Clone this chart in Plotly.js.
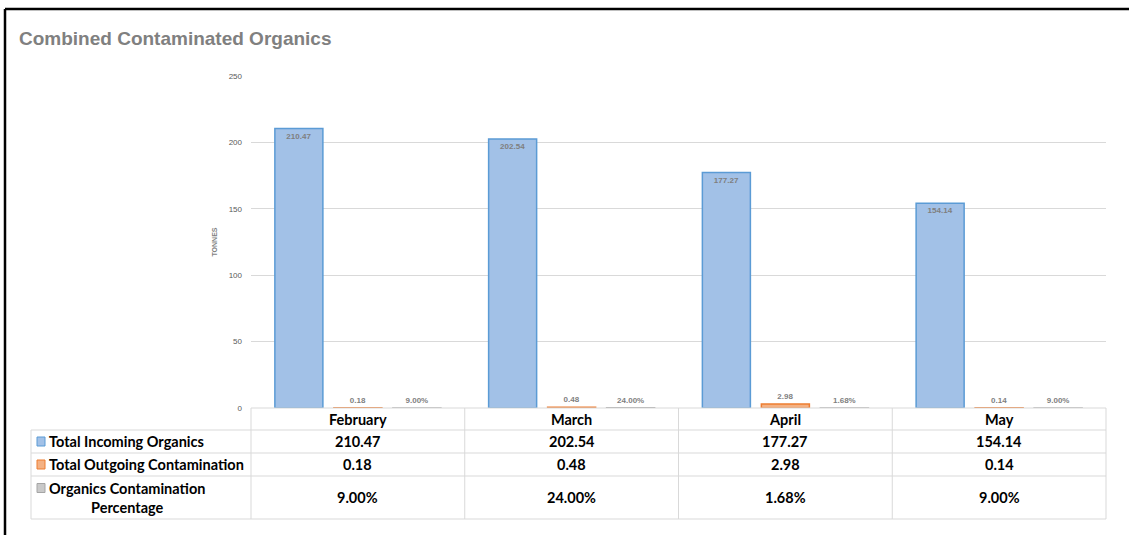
<!DOCTYPE html>
<html>
<head>
<meta charset="utf-8">
<script src="https://cdn.plot.ly/plotly-3.0.1.min.js"></script>
<style>html,body{margin:0;padding:0;background:#fff;}#chart{width:1129px;height:535px;}</style>
</head>
<body>
<div id="chart"></div>
<script>
// ---- data ----
var months = ["February", "March", "April", "May"];
var incoming = [210.47, 202.54, 177.27, 154.14];
var outgoing = [0.18, 0.48, 2.98, 0.14];
var contaminationPct = [0.09, 0.24, 0.0168, 0.09];
var seriesNames = ["Total Incoming Organics", "Total Outgoing Contamination", "Organics Contamination<br>Percentage"];
var yTicks = [0, 50, 100, 150, 200, 250];

// ---- layout helpers (pixel -> paper) ----
var W = 1129, H = 535, L = 251, R = 1106, T = 76, B = 408;
function px(x) { return (x - L) / (R - L); }
function py(y) { return (B - y) / (B - T); }

var labelFont = {family: "Liberation Sans, Arial, sans-serif", size: 8, color: "#7f7f7f", weight: "bold"};
var tableFont = {family: "Lato, Open Sans, sans-serif", size: 14.5, color: "#000", weight: "bold"};

var colors = [
  {fill: "#a2c1e7", line: "#5b9bd5"},
  {fill: "#f4b183", line: "#ed7d31"},
  {fill: "#c9c9c9", line: "#a5a5a5"}
];

var traces = [
  {type: "bar", name: seriesNames[0], x: months, y: incoming,
   marker: {color: colors[0].fill, line: {color: colors[0].line, width: 1.5}},
   text: incoming.map(function (v) { return v.toFixed(2); }),
   textposition: "inside", insidetextanchor: "end", textangle: 0, constraintext: "none",
   insidetextfont: labelFont, hoverinfo: "skip"},
  {type: "bar", name: seriesNames[1], x: months, y: outgoing,
   marker: {color: colors[1].fill, line: {color: colors[1].line, width: 1.5}},
   text: outgoing.map(function (v) { return v.toFixed(2); }),
   textposition: "outside", textangle: 0, constraintext: "none", cliponaxis: false,
   outsidetextfont: labelFont, hoverinfo: "skip"},
  {type: "bar", name: "Organics Contamination Percentage", x: months, y: contaminationPct,
   marker: {color: colors[2].fill, line: {color: colors[2].line, width: 1.5}},
   text: contaminationPct.map(function (v) { return (v * 100).toFixed(2) + "%"; }),
   textposition: "outside", textangle: 0, constraintext: "none", cliponaxis: false,
   outsidetextfont: labelFont, hoverinfo: "skip"}
];

var gridColor = "#d9d9d9";
var shapes = [];
function hline(x0, x1, y, color, w) {
  shapes.push({type: "line", xref: "paper", yref: "paper", x0: px(x0), x1: px(x1), y0: py(y), y1: py(y),
               line: {color: color || gridColor, width: w || 1}});
}
function vline(x, y0, y1, color, w) {
  shapes.push({type: "line", xref: "paper", yref: "paper", x0: px(x), x1: px(x), y0: py(y0), y1: py(y1),
               line: {color: color || gridColor, width: w || 1}});
}
// table grid
var rowLines = [430, 453, 476, 519];
hline(L, R, 408);
rowLines.forEach(function (y) { hline(31, R, y); });
vline(31, 430, 519);
for (var k = 0; k <= months.length; k++) {
  var xk = L + (R - L) * k / months.length;
  vline(xk, 408, 519);
}
// legend keys
var rowCenters = [441.5, 464.5, 497.5];
var keyY = [441.5, 464.5, 488];
colors.forEach(function (c, i) {
  shapes.push({type: "rect", xref: "paper", yref: "paper",
    x0: px(37), x1: px(45), y0: py(keyY[i] - 4.5), y1: py(keyY[i] + 4.5),
    fillcolor: c.fill, line: {color: c.line, width: 1}});
});
// outer frame
hline(5, 1129, 9, "#000", 2.5);
vline(5, 9, 535, "#000", 2.5);

var annotations = [];
// row labels
seriesNames.forEach(function (n, i) {
  annotations.push({xref: "paper", yref: "paper", x: px(47), y: py(rowCenters[i]),
    xanchor: "left", yanchor: "middle", align: "center", text: n, showarrow: false,
    font: tableFont});
});
// table values
var rows = [
  incoming.map(function (v) { return v.toFixed(2); }),
  outgoing.map(function (v) { return v.toFixed(2); }),
  contaminationPct.map(function (v) { return (v * 100).toFixed(2) + "%"; })
];
rows.forEach(function (r, i) {
  r.forEach(function (t, j) {
    annotations.push({xref: "x", yref: "paper", x: months[j], y: py(rowCenters[i]),
      xanchor: "center", yanchor: "middle", text: t, showarrow: false, font: tableFont});
  });
});
// month headers
months.forEach(function (m) {
  annotations.push({xref: "x", yref: "paper", x: m, y: py(419),
    xanchor: "center", yanchor: "middle", text: m, showarrow: false, font: tableFont});
});

var layout = {
  width: W, height: H,
  margin: {l: L, r: W - R, t: T, b: H - B, pad: 0},
  paper_bgcolor: "#fff", plot_bgcolor: "#fff",
  showlegend: false,
  title: {text: "Combined Contaminated Organics", x: 19 / W, xanchor: "left", xref: "container",
          y: 1 - 38 / H, yanchor: "middle",
          font: {family: "Liberation Sans, Arial, sans-serif", size: 19, color: "#808080", weight: "bold"}},
  barmode: "group", bargap: 0.172, bargroupgap: 0.186,
  xaxis: {type: "category", range: [-0.5, months.length - 0.5], showticklabels: false,
          showgrid: false, zeroline: false, showline: false, ticks: "", fixedrange: true},
  yaxis: {range: [0, 250], tickvals: yTicks, ticktext: yTicks.map(String),
          showgrid: true, gridcolor: gridColor, gridwidth: 1, zeroline: false, showline: false,
          ticks: "", ticklabelstandoff: 8,
          tickfont: {family: "Liberation Sans, Arial, sans-serif", size: 8, color: "#595959"},
          title: {text: "TONNES", standoff: 10,
                  font: {family: "Liberation Sans, Arial, sans-serif", size: 7, color: "#7f7f7f", weight: "bold"}},
          automargin: false, fixedrange: true},
  shapes: shapes,
  annotations: annotations
};

Plotly.newPlot("chart", traces, layout, {displayModeBar: false, staticPlot: true});
</script>
</body>
</html>
